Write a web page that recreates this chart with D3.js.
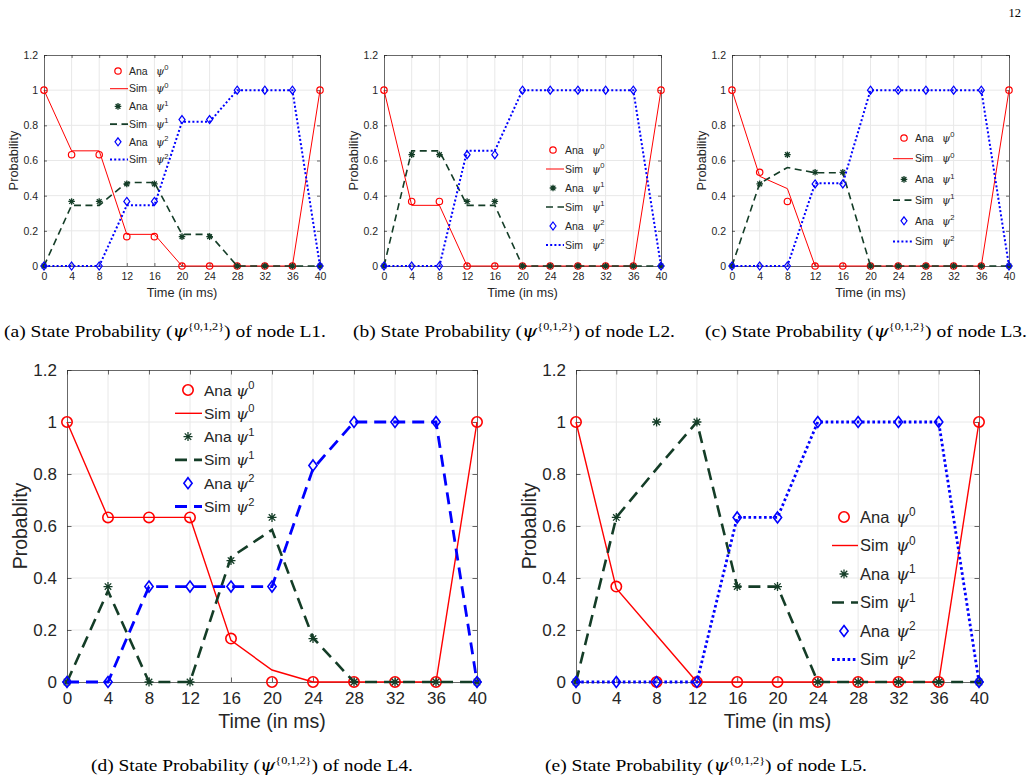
<!DOCTYPE html>
<html>
<head>
<meta charset="utf-8">
<script src="https://cdn.jsdelivr.net/npm/d3@7"></script>
<style>
	body { margin: 0; background: #fff; }
	svg text { font-family: 'Liberation Sans', Arial, sans-serif; fill: #262626; }
	.psi { font-family: 'DejaVu Serif', 'Liberation Serif', serif; font-style: italic; }
	.cap, .cap tspan { font-family: 'Liberation Serif', 'Times New Roman', serif; fill: #000; }
</style>
</head>
<body>
<svg id="fig" width="1032" height="779"></svg>
<script>
//---->DATA<-----//
const times = [0, 4, 8, 12, 16, 20, 24, 28, 32, 36, 40],
	yTicks = [0, 0.2, 0.4, 0.6, 0.8, 1, 1.2];

const legendNames = ['Ana', 'Sim', 'Ana', 'Sim', 'Ana', 'Sim'],
	legendPows = ['0', '0', '1', '1', '2', '2'];

// node L1
const l1Ana0 = [1, 0.633, 0.633, 0.167, 0.167, 0, 0, 0, 0, 0, 1],
	l1Sim0 = [1, 0.655, 0.655, 0.18, 0.18, 0, 0, 0, 0, 0, 1],
	l1Ana1 = [0, 0.367, 0.367, 0.467, 0.467, 0.167, 0.167, 0, 0, 0, 0],
	l1Sim1 = [0, 0.345, 0.345, 0.475, 0.475, 0.18, 0.18, 0, 0, 0, 0],
	l1Ana2 = [0, 0, 0, 0.367, 0.367, 0.833, 0.833, 1, 1, 1, 0],
	l1Sim2 = [0, 0, 0, 0.345, 0.345, 0.82, 0.82, 1, 1, 1, 0];

// node L2
const l2Ana0 = [1, 0.367, 0.367, 0, 0, 0, 0, 0, 0, 0, 1],
	l2Sim0 = [1, 0.345, 0.345, 0, 0, 0, 0, 0, 0, 0, 1],
	l2Ana1 = [0, 0.633, 0.633, 0.367, 0.367, 0, 0, 0, 0, 0, 0],
	l2Sim1 = [0, 0.655, 0.655, 0.345, 0.345, 0, 0, 0, 0, 0, 0],
	l2Ana2 = [0, 0, 0, 0.633, 0.633, 1, 1, 1, 1, 1, 0],
	l2Sim2 = [0, 0, 0, 0.655, 0.655, 1, 1, 1, 1, 1, 0];

// node L3
const l3Ana0 = [1, 0.533, 0.367, 0, 0, 0, 0, 0, 0, 0, 1],
	l3Sim0 = [1, 0.51, 0.44, 0, 0, 0, 0, 0, 0, 0, 1],
	l3Ana1 = [0, 0.467, 0.633, 0.533, 0.533, 0, 0, 0, 0, 0, 0],
	l3Sim1 = [0, 0.47, 0.56, 0.53, 0.53, 0, 0, 0, 0, 0, 0],
	l3Ana2 = [0, 0, 0, 0.467, 0.467, 1, 1, 1, 1, 1, 0],
	l3Sim2 = [0, 0, 0, 0.47, 0.47, 1, 1, 1, 1, 1, 0];

// node L4
const l4Ana0 = [1, 0.633, 0.633, 0.633, 0.167, 0, 0, 0, 0, 0, 1],
	l4Sim0 = [1, 0.633, 0.633, 0.633, 0.16, 0.046, 0, 0, 0, 0, 1],
	l4Ana1 = [0, 0.367, 0, 0, 0.467, 0.633, 0.167, 0, 0, 0, 0],
	l4Sim1 = [0, 0.35, 0, 0, 0.48, 0.585, 0.17, 0, 0, 0, 0],
	l4Ana2 = [0, 0, 0.367, 0.367, 0.367, 0.367, 0.833, 1, 1, 1, 0],
	l4Sim2 = [0, 0, 0.367, 0.367, 0.367, 0.367, 0.82, 1, 1, 1, 0];

// node L5
const l5Ana0 = [1, 0.367, 0, 0, 0, 0, 0, 0, 0, 0, 1],
	l5Sim0 = [1, 0.36, 0.18, 0, 0, 0, 0, 0, 0, 0, 1],
	l5Ana1 = [0, 0.633, 1, 1, 0.367, 0.367, 0, 0, 0, 0, 0],
	l5Sim1 = [0, 0.633, 0.82, 1, 0.367, 0.367, 0, 0, 0, 0, 0],
	l5Ana2 = [0, 0, 0, 0, 0.633, 0.633, 1, 1, 1, 1, 0],
	l5Sim2 = [0, 0, 0, 0, 0.633, 0.633, 1, 1, 1, 1, 0];

const captions = ['(a)', '(b)', '(c)', '(d)', '(e)'],
	nodeNames = ['L1', 'L2', 'L3', 'L4', 'L5'],
	yTitles = ['Probability', 'Probability', 'Probability', 'Probablity', 'Probablity'];

//---->STYLE<-----//
const RED = '#ff0000',
	GREEN = '#143d27',
	BLUE = '#0000ff',
	AXIS = '#262626',
	GRID = '#e8e8e8';

const small = {
	tick: 10.5, label: 12.8, legend: 10.5, tickLen: 3, xPad: 7, yPad: 6,
	xLabelDy: 26, yLabelDx: 31, r: 3.2, dia: 4, star: 3.3,
	w0: 1, w1: 1.6, w2: 2, dash1: '7,4.5', dash2: '2,2.2', psiDx: 27
};
const large = {
	tick: 17, label: 19.5, legend: 15.5, tickLen: 4.5, xPad: 10, yPad: 10,
	xLabelDy: 39, yLabelDx: 47, r: 5.2, dia: 5.5, star: 4.5,
	w0: 1.4, w1: 2.6, w2: 2.8, dash1: '12,7', dash2: '2.6,2.6', psiDx: 32
};

const panels = [
	{ series: [l1Ana0, l1Sim0, l1Ana1, l1Sim1, l1Ana2, l1Sim2], left: 44, right: 320, top: 55, bottom: 266, st: small,
		leg: { mx: 118, lx0: 110, lx1: 128, tx: 129, y0: 71, dy: 17.7 }, capX: 165, capY: 337 },
	{ series: [l2Ana0, l2Sim0, l2Ana1, l2Sim1, l2Ana2, l2Sim2], left: 384, right: 661, top: 55, bottom: 266, st: small,
		leg: { mx: 553, lx0: 546, lx1: 564, tx: 565, y0: 150, dy: 19 }, capX: 514, capY: 337 },
	{ series: [l3Ana0, l3Sim0, l3Ana1, l3Sim1, l3Ana2, l3Sim2], left: 732, right: 1009, top: 55, bottom: 266, st: small,
		leg: { mx: 904, lx0: 893, lx1: 913, tx: 915, y0: 138, dy: 20.7 }, capX: 866, capY: 337 },
	{ series: [l4Ana0, l4Sim0, l4Ana1, l4Sim1, l4Ana2, l4Sim2], left: 67, right: 477, top: 370, bottom: 682, st: large, sim2Dash: '12,7',
		leg: { mx: 188, lx0: 175, lx1: 202, tx: 204, y0: 390, dy: 23.3 }, capX: 252, capY: 771 },
	{ series: [l5Ana0, l5Sim0, l5Ana1, l5Sim1, l5Ana2, l5Sim2], left: 576, right: 979, top: 370, bottom: 682, st: large,
		leg: { mx: 844, lx0: 832, lx1: 858, tx: 860, y0: 517, dy: 28.5, psiDx: 36, size: 16.5 }, capX: 706, capY: 771 }
];

const svg = d3.select('#fig');

function marker(g, kind, cx, cy, st) {
	if (kind === 0) {
		g.append('circle').attr('cx', cx).attr('cy', cy).attr('r', st.r)
			.attr('fill', 'none').attr('stroke', RED).attr('stroke-width', st.w0 + 0.2);
	} else if (kind === 1) {
		const s = st.star, d = s * 0.72;
		g.append('path')
			.attr('d', `M${cx - s},${cy}H${cx + s}M${cx},${cy - s}V${cy + s}M${cx - d},${cy - d}L${cx + d},${cy + d}M${cx - d},${cy + d}L${cx + d},${cy - d}`)
			.attr('stroke', GREEN).attr('stroke-width', 1.3).attr('fill', 'none');
	} else {
		const s = st.dia, sw = s * 0.75;
		g.append('path')
			.attr('d', `M${cx},${cy - s}L${cx + sw},${cy}L${cx},${cy + s}L${cx - sw},${cy}Z`)
			.attr('fill', 'none').attr('stroke', BLUE).attr('stroke-width', st.w0 + 0.2);
	}
}

function lineStyle(sel, k, st, p) {
	if (k === 0) sel.attr('stroke', RED).attr('stroke-width', st.w0);
	else if (k === 1) sel.attr('stroke', GREEN).attr('stroke-width', st.w1).attr('stroke-dasharray', st.dash1);
	else sel.attr('stroke', BLUE).attr('stroke-width', st.w2).attr('stroke-dasharray', p.sim2Dash || st.dash2);
	return sel;
}

function psiText(sel, x, y, size, pow, powSize) {
	const t = sel.append('text').attr('x', x).attr('y', y).attr('font-size', size);
	t.append('tspan').attr('class', 'psi').text('ψ');
	t.append('tspan').attr('font-size', powSize).attr('dy', -size * 0.42).text(pow);
	return t;
}

function drawPanel(p) {
	const st = p.st,
		w = p.right - p.left,
		h = p.bottom - p.top;

	const x = d3.scaleLinear().domain([0, 40]).range([0, w]),
		y = d3.scaleLinear().domain([0, 1.2]).range([h, 0]);

	const g = svg.append('g').attr('transform', `translate(${p.left},${p.top})`);

	// grid
	g.append('g').selectAll('line').data(times.slice(1, -1)).enter().append('line')
		.attr('x1', d => x(d)).attr('x2', d => x(d)).attr('y1', 0).attr('y2', h)
		.attr('stroke', GRID).attr('stroke-width', 1);
	g.append('g').selectAll('line').data(yTicks.slice(1, -1)).enter().append('line')
		.attr('y1', d => y(d)).attr('y2', d => y(d)).attr('x1', 0).attr('x2', w)
		.attr('stroke', GRID).attr('stroke-width', 1);

	// axes (box on, ticks inward)
	const fmt = d => String(d);
	const xAxis = g.append('g').attr('transform', `translate(0,${h})`)
		.call(d3.axisBottom(x).tickValues(times).tickFormat(fmt).tickSize(-st.tickLen).tickSizeOuter(0).tickPadding(st.xPad));
	const xTop = g.append('g')
		.call(d3.axisTop(x).tickValues(times).tickFormat('').tickSize(-st.tickLen).tickSizeOuter(0));
	const yAxis = g.append('g')
		.call(d3.axisLeft(y).tickValues(yTicks).tickFormat(fmt).tickSize(-st.tickLen).tickSizeOuter(0).tickPadding(st.yPad));
	const yRight = g.append('g').attr('transform', `translate(${w},0)`)
		.call(d3.axisRight(y).tickValues(yTicks).tickFormat('').tickSize(-st.tickLen).tickSizeOuter(0));
	[xAxis, xTop, yAxis, yRight].forEach(a => {
		a.selectAll('path, line').attr('stroke', AXIS).attr('stroke-width', 0.7);
		a.selectAll('text').attr('font-size', st.tick).attr('fill', AXIS)
			.style('font-family', "'Liberation Sans', Arial, sans-serif");
	});

	// axis labels
	g.append('text').attr('x', w / 2).attr('y', h + st.xLabelDy).attr('text-anchor', 'middle')
		.attr('dominant-baseline', 'central').attr('font-size', st.label).text('Time (in ms)');
	g.append('text').attr('transform', `translate(${-st.yLabelDx},${h / 2}) rotate(-90)`)
		.attr('text-anchor', 'middle').attr('dominant-baseline', 'central')
		.attr('font-size', st.label).text(yTitles[p.idx]);

	// series: Ana markers then Sim line, per state
	const line = d3.line().x((d, i) => x(times[i])).y(d => y(d));
	for (let k = 0; k < 3; k++) {
		const ana = p.series[2 * k],
			sim = p.series[2 * k + 1];
		const mg = g.append('g');
		ana.forEach((v, i) => marker(mg, k, x(times[i]), y(v), st));
		lineStyle(g.append('path').datum(sim).attr('d', line).attr('fill', 'none'), k, st, p);
	}

	// legend (no box)
	const L = p.leg,
		lg = svg.append('g'),
		fs = L.size || st.legend,
		psiDx = L.psiDx || st.psiDx;
	legendNames.forEach((name, i) => {
		const yy = L.y0 + i * L.dy,
			k = Math.floor(i / 2);
		if (i % 2 === 0) marker(lg, k, L.mx, yy, st);
		else lineStyle(lg.append('line').attr('x1', L.lx0).attr('x2', L.lx1).attr('y1', yy).attr('y2', yy), k, st, p);
		lg.append('text').attr('x', L.tx).attr('y', yy + fs * 0.36).attr('font-size', fs).text(name);
		psiText(lg, L.tx + psiDx, yy + fs * 0.36, fs, legendPows[i], fs * 0.72);
	});

	// caption
	const cap = svg.append('text').attr('class', 'cap').attr('x', p.capX).attr('y', p.capY)
		.attr('text-anchor', 'middle').attr('font-size', 17.5)
		.attr('textLength', 322).attr('lengthAdjust', 'spacingAndGlyphs');
	cap.append('tspan').text(captions[p.idx] + ' State Probability (');
	cap.append('tspan').style('font-family', "'DejaVu Serif', serif").style('font-style', 'italic').text('ψ');
	cap.append('tspan').attr('font-size', 11).attr('dy', -7).text('{0,1,2}');
	cap.append('tspan').attr('dy', 7).text(') of node ' + nodeNames[p.idx] + '.');
}

panels.forEach((p, i) => { p.idx = i; drawPanel(p); });

// page number
svg.append('text').attr('class', 'cap').attr('x', 1021).attr('y', 17).attr('text-anchor', 'end')
	.attr('font-size', 12.5).text('12');
</script>
</body>
</html>
